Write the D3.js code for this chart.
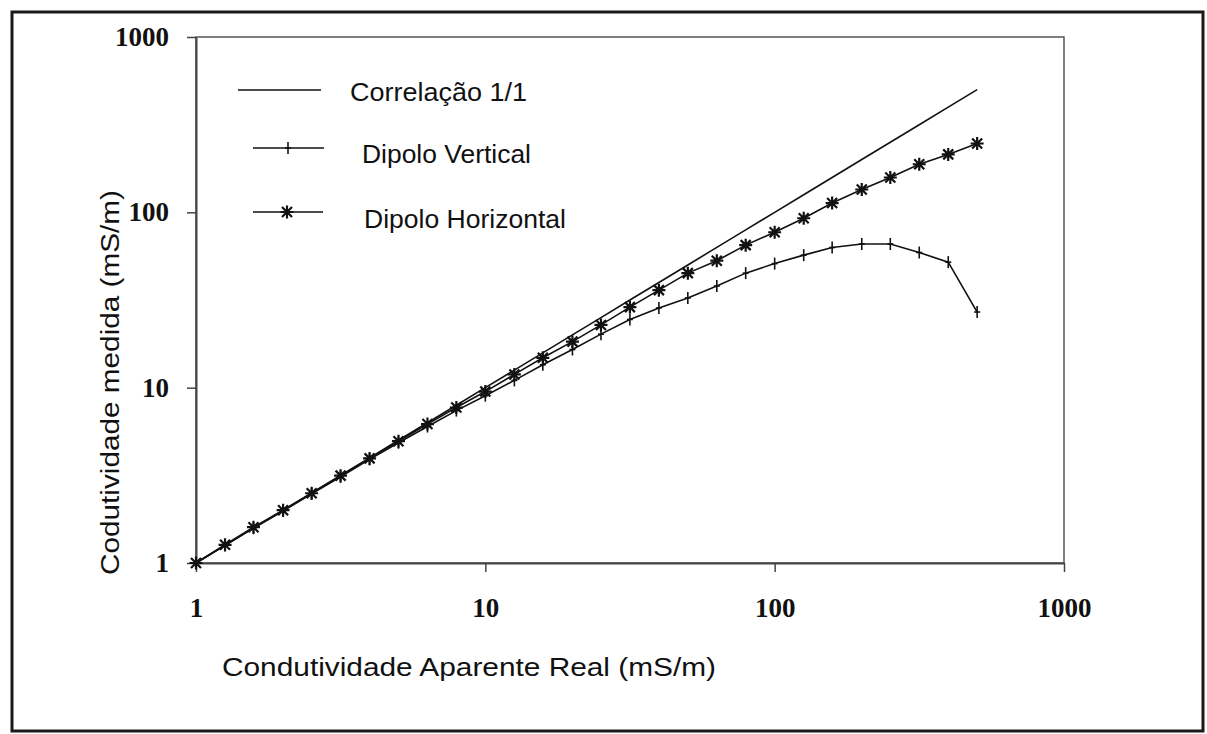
<!DOCTYPE html>
<html>
<head>
<meta charset="utf-8">
<script src="https://cdn.jsdelivr.net/npm/d3@7"></script>
<style>
  html, body { margin: 0; padding: 0; background: #fff; }
  svg { display: block; }
</style>
</head>
<body>
<svg id="chart" width="1207" height="734"></svg>
<script>
// Apparent conductivity steps (mS/m), ten per decade
const condutividadeReal = [1, 1.26, 1.58, 2.0, 2.51, 3.16, 3.98, 5.01, 6.31, 7.94,
  10, 12.6, 15.8, 20, 25.1, 31.6, 39.8, 50.1, 63.1, 79.4,
  100, 126, 158, 200, 251, 316, 398, 501];

// 1:1 reference line
const correlacao = [1, 1.26, 1.58, 2.0, 2.51, 3.16, 3.98, 5.01, 6.31, 7.94,
  10, 12.6, 15.8, 20, 25.1, 31.6, 39.8, 50.1, 63.1, 79.4,
  100, 126, 158, 200, 251, 316, 398, 501];

// Measured conductivity, vertical dipole
const dipoloVertical = [1, 1.26, 1.58, 1.98, 2.48, 3.1, 3.9, 4.85, 6.0, 7.4,
  9.0, 11.0, 13.5, 16.5, 20.2, 24.5, 28.5, 32.5, 38, 45,
  51, 57, 63, 66, 66, 59, 52, 27];

// Measured conductivity, horizontal dipole
const dipoloHorizontal = [1, 1.27, 1.6, 2.0, 2.5, 3.15, 3.95, 4.95, 6.2, 7.7,
  9.5, 11.9, 14.8, 18.3, 22.8, 28.8, 36, 45, 53, 65,
  77, 92.5, 113, 135, 158, 188, 214, 247];

const tickValues = [1, 10, 100, 1000];
const tickLabels = ["1", "10", "100", "1000"];

const legendLabels = ["Correlação 1/1", "Dipolo Vertical", "Dipolo Horizontal"];
const xTitle = "Condutividade  Aparente Real (mS/m)";
const yTitle = "Codutividade  medida (mS/m)";

const svg = d3.select("#chart");
const ink = "#111";

// outer frame
svg.append("rect")
  .attr("x", 12).attr("y", 12).attr("width", 1191).attr("height", 719)
  .attr("fill", "none").attr("stroke", "#1a1a1a").attr("stroke-width", 3);

const plot = { left: 196, right: 1064, top: 37, bottom: 563 };

const x = d3.scaleLog().domain([1, 1000]).range([plot.left, plot.right]);
const y = d3.scaleLog().domain([1, 1000]).range([plot.bottom, plot.top]);

// plot area box
svg.append("rect")
  .attr("x", plot.left).attr("y", plot.top)
  .attr("width", plot.right - plot.left).attr("height", plot.bottom - plot.top)
  .attr("fill", "none").attr("stroke", "#555").attr("stroke-width", 1.5);

const fmt = d => tickLabels[tickValues.indexOf(d)];

const xAxis = svg.append("g")
  .attr("transform", `translate(0,${plot.bottom})`)
  .call(d3.axisBottom(x).tickValues(tickValues).tickFormat(fmt).tickSize(9).tickSizeOuter(0).tickPadding(26));

const yAxis = svg.append("g")
  .attr("transform", `translate(${plot.left},0)`)
  .call(d3.axisLeft(y).tickValues(tickValues).tickFormat(fmt).tickSize(9).tickSizeOuter(0).tickPadding(18));

[xAxis, yAxis].forEach(g => {
  g.select(".domain").attr("stroke", "#444").attr("stroke-width", 2);
  g.selectAll(".tick line").attr("stroke", "#444").attr("stroke-width", 1.5);
  g.selectAll(".tick text")
    .attr("fill", ink)
    .style("font-family", "'Liberation Serif', 'Times New Roman', serif")
    .style("font-weight", "bold")
    .style("font-size", "27px");
});

// axis titles
svg.append("text")
  .attr("x", 222).attr("y", 676)
  .attr("textLength", 494).attr("lengthAdjust", "spacingAndGlyphs")
  .style("font-family", "'Liberation Sans', Arial, sans-serif")
  .style("font-size", "26px").attr("fill", ink)
  .text(xTitle);

svg.append("text")
  .attr("transform", "translate(119,575) rotate(-90)")
  .attr("textLength", 385).attr("lengthAdjust", "spacingAndGlyphs")
  .style("font-family", "'Liberation Sans', Arial, sans-serif")
  .style("font-size", "26px").attr("fill", ink)
  .text(yTitle);

// series lines
const line = vals => d3.line()
  .x((d, i) => x(condutividadeReal[i]))
  .y(d => y(d))(vals);

svg.append("path").attr("d", line(correlacao))
  .attr("fill", "none").attr("stroke", ink).attr("stroke-width", 1.6);
svg.append("path").attr("d", line(dipoloVertical))
  .attr("fill", "none").attr("stroke", ink).attr("stroke-width", 1.6);
svg.append("path").attr("d", line(dipoloHorizontal))
  .attr("fill", "none").attr("stroke", ink).attr("stroke-width", 1.6);

// markers
function plusMark(g, cx, cy) {
  g.append("line").attr("x1", cx).attr("x2", cx).attr("y1", cy - 6).attr("y2", cy + 6)
    .attr("stroke", ink).attr("stroke-width", 1.6);
  g.append("line").attr("x1", cx - 3).attr("x2", cx + 3).attr("y1", cy).attr("y2", cy)
    .attr("stroke", ink).attr("stroke-width", 1.6);
}
function starMark(g, cx, cy) {
  const r = 6.5, d = 5;
  g.append("path")
    .attr("d", `M${cx},${cy - r}V${cy + r}M${cx - r},${cy}H${cx + r}` +
      `M${cx - d},${cy - d}L${cx + d},${cy + d}M${cx - d},${cy + d}L${cx + d},${cy - d}`)
    .attr("stroke", ink).attr("stroke-width", 2.2).attr("fill", "none");
}

const vMarks = svg.append("g");
dipoloVertical.forEach((v, i) => {
  if (i === 0) return;
  plusMark(vMarks, x(condutividadeReal[i]), y(v));
});
const hMarks = svg.append("g");
dipoloHorizontal.forEach((v, i) => starMark(hMarks, x(condutividadeReal[i]), y(v)));

// legend
const legend = svg.append("g");
const legFont = "'Liberation Sans', Arial, sans-serif";
legend.append("line").attr("x1", 238).attr("x2", 321).attr("y1", 90).attr("y2", 90)
  .attr("stroke", ink).attr("stroke-width", 1.6);
legend.append("line").attr("x1", 253).attr("x2", 324).attr("y1", 148).attr("y2", 148)
  .attr("stroke", ink).attr("stroke-width", 1.6);
plusMark(legend, 288, 148);
legend.append("line").attr("x1", 253).attr("x2", 323).attr("y1", 212).attr("y2", 212)
  .attr("stroke", ink).attr("stroke-width", 1.6);
starMark(legend, 287, 212);

const legendPos = [[350, 101, 177], [362, 163, 169], [364, 228, 202]];
legendLabels.forEach((t, i) => {
  legend.append("text")
    .attr("x", legendPos[i][0]).attr("y", legendPos[i][1])
    .attr("textLength", legendPos[i][2]).attr("lengthAdjust", "spacingAndGlyphs")
    .style("font-family", legFont).style("font-size", "26px").attr("fill", ink)
    .text(t);
});
</script>
</body>
</html>
